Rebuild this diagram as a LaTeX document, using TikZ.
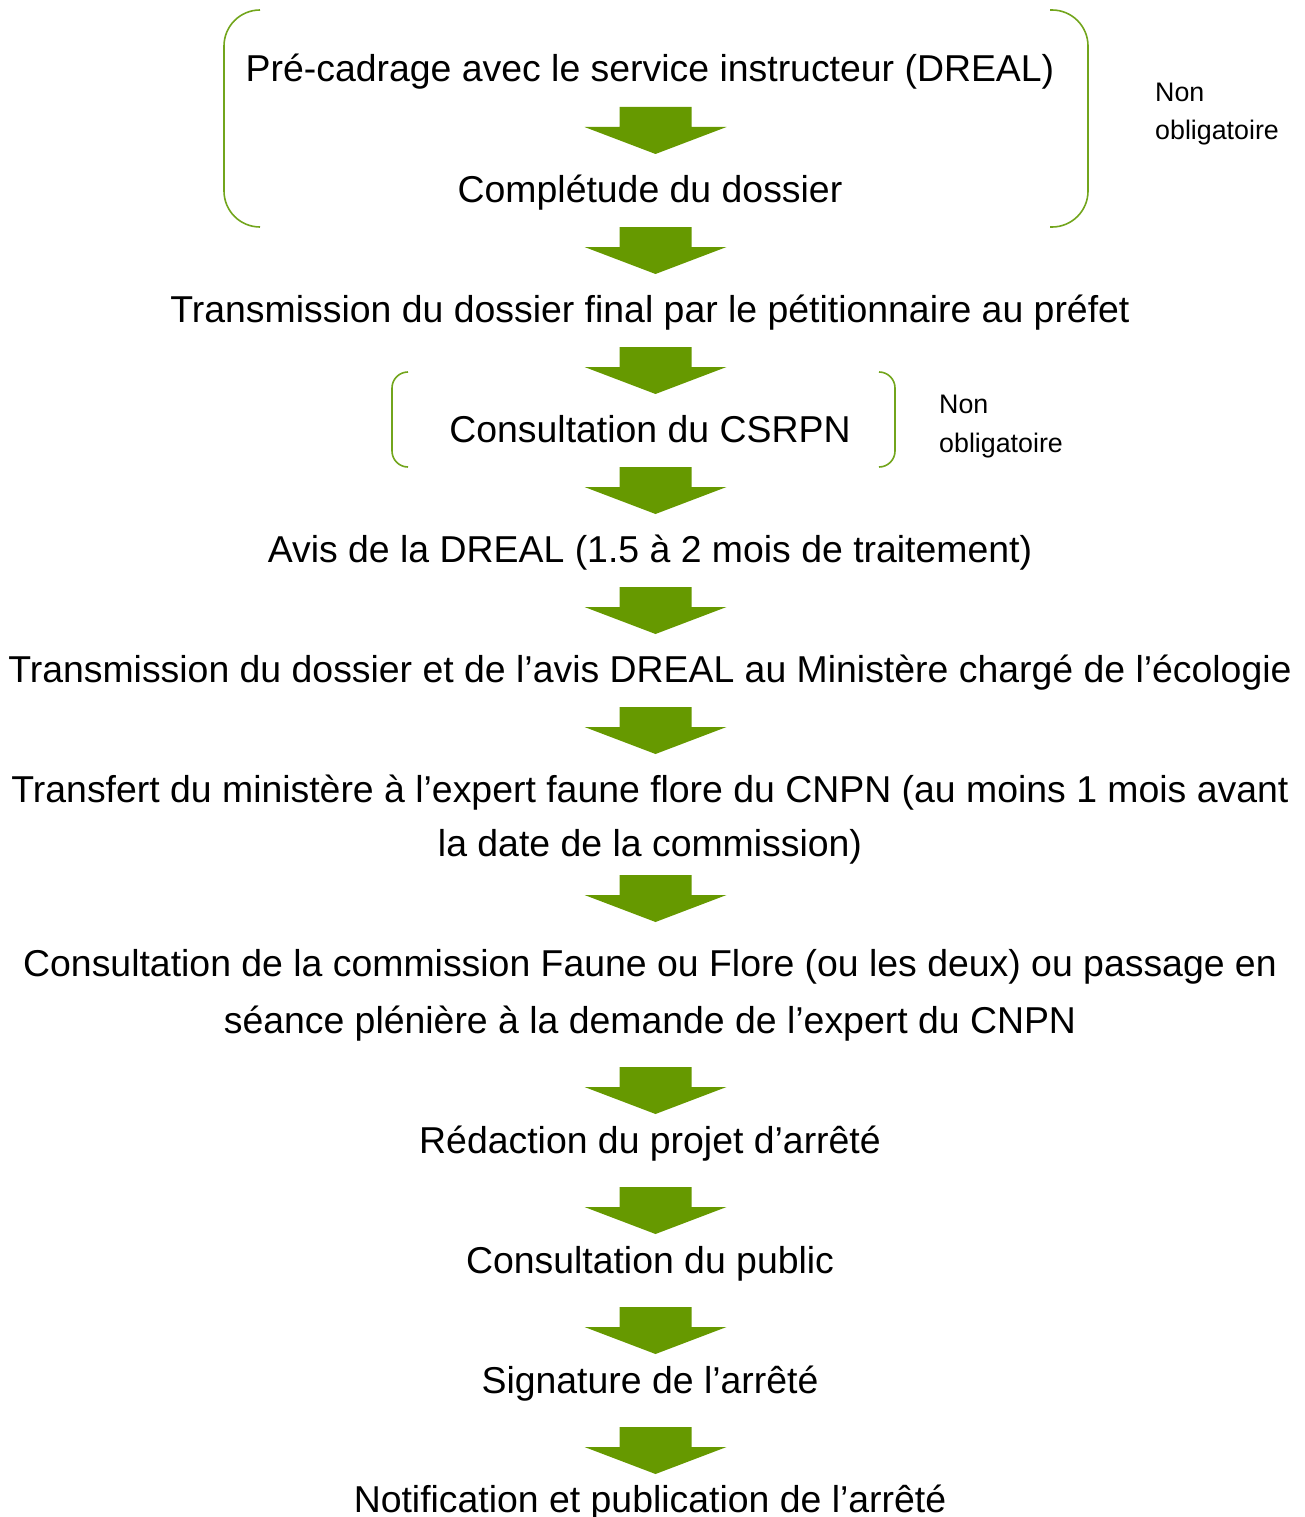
\documentclass[tikz,border=0pt]{standalone}
\usepackage{fontspec}
\setmainfont{Liberation Sans}
\definecolor{arrowgreen}{HTML}{669900}
\definecolor{bracegreen}{HTML}{72A51C}
\begin{document}
\begin{tikzpicture}[x=1pt,y=-1pt,
  steptext/.style={anchor=base,inner sep=0pt,align=center,font=\fontsize{37.4}{54}\selectfont},
  notetext/.style={anchor=base west,inner sep=0pt,align=left,font=\fontsize{26.8}{38.5}\selectfont},
  bracestroke/.style={draw=bracegreen,line width=1.6pt},
  blockarrow/.pic={\fill[arrowgreen] (-36,0) -- (36,0) -- (36,20) -- (71,20) -- (0,47) -- (-71,20) -- (-36,20) -- cycle;}]
\useasboundingbox (0,0) rectangle (1304,1517);
% step texts (base anchor = baseline of the last line)
\node[steptext] (s1) at (650,82) {Pré-cadrage avec le service instructeur (DREAL)};
\node[steptext] (s2) at (650,202) {Complétude du dossier};
\node[steptext] (s3) at (650,322) {Transmission du dossier final par le pétitionnaire au préfet};
\node[steptext] (s4) at (650,442) {Consultation du CSRPN};
\node[steptext] (s5) at (650,562) {Avis de la DREAL (1.5 à 2 mois de traitement)};
\node[steptext] (s6) at (650,682) {Transmission du dossier et de l’avis DREAL au Ministère chargé de l’écologie};
\node[steptext] (s7) at (650,856) {Transfert du ministère à l’expert faune flore du CNPN (au moins 1 mois avant\\la date de la commission)};
\node[steptext,font=\fontsize{37.4}{57}\selectfont] (s8) at (650,1033) {Consultation de la commission Faune ou Flore (ou les deux) ou passage en\\séance plénière à la demande de l’expert du CNPN};
\node[steptext] (s9) at (650,1153) {Rédaction du projet d’arrêté};
\node[steptext] (s10) at (650,1273) {Consultation du public};
\node[steptext] (s11) at (650,1393) {Signature de l’arrêté};
\node[steptext] (s12) at (650,1512) {Notification et publication de l’arrêté};
% notes
\node[notetext] (n1) at (1155,140) {Non\\obligatoire};
\node[notetext] (n2) at (939,452) {Non\\obligatoire};
% block arrows
\coordinate (a1) at (655.5,107);
\coordinate (a2) at (655.5,227);
\coordinate (a3) at (655.5,347);
\coordinate (a4) at (655.5,467);
\coordinate (a5) at (655.5,587);
\coordinate (a6) at (655.5,707);
\coordinate (a7) at (655.5,875);
\coordinate (a8) at (655.5,1067);
\coordinate (a9) at (655.5,1187);
\coordinate (a10) at (655.5,1307);
\coordinate (a11) at (655.5,1427);
\foreach \i in {1,...,11} {\pic at (a\i) {blockarrow};}
% brackets
\draw[bracestroke,rounded corners=36pt] (260,10) -- (224,10) -- (224,227) -- (260,227);
\draw[bracestroke,rounded corners=36pt] (1050,10) -- (1088,10) -- (1088,227) -- (1050,227);
\draw[bracestroke,rounded corners=16pt] (408,372) -- (392,372) -- (392,467) -- (408,467);
\draw[bracestroke,rounded corners=16pt] (879,372) -- (895,372) -- (895,467) -- (879,467);
\end{tikzpicture}
\end{document}
